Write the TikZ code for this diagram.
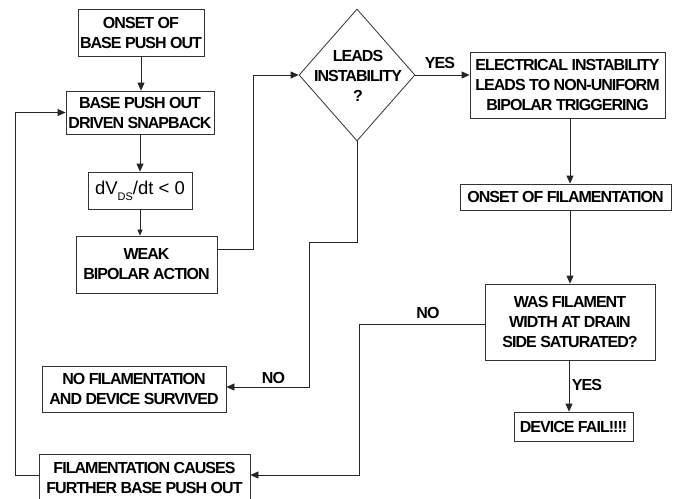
\documentclass[tikz,border=0pt]{standalone}
\usepackage{fontspec}
\setmainfont{Liberation Sans}[LetterSpace=-6]
\newfontfamily\plainsf{Liberation Sans}
\usetikzlibrary{arrows.meta,shapes.geometric,calc}
\begin{document}
\begin{tikzpicture}[x=1pt,y=-1pt,
  box/.style={draw=black!80, line width=0.8pt, rectangle, inner sep=0pt, align=center, font=\bfseries\fontsize{16}{20}\selectfont},
  conn/.style={line width=0.8pt, draw=black!85},
  arr/.style={conn, -{Triangle[length=8pt,width=7pt]}},
  smallarr/.style={line width=0.6pt, draw=black!85, -{Triangle[length=6pt,width=5pt]}},
  lbl/.style={font=\bfseries\fontsize{16}{20}\selectfont, inner sep=0pt, align=center}]
\clip (0,0) rectangle (676,498);
\fill[white] (0,0) rectangle (676,498);
% boxes
\node[box, minimum width=126pt, minimum height=47pt] (b1) at (141,32.5) {ONSET OF\\BASE PUSH OUT};
\node[box, minimum width=148pt, minimum height=43pt] (b2) at (140,112.5) {BASE PUSH OUT\\DRIVEN SNAPBACK};
\node[box, minimum width=104pt, minimum height=37pt, font=\plainsf\fontsize{18.5}{20}\selectfont] (b3) at (140,190.5) {dV\raisebox{-6pt}{\fontsize{11}{11}\selectfont DS}/dt < 0};
\node[box, minimum width=141pt, minimum height=57pt] (b4) at (146.5,264.5) {WEAK\\BIPOLAR ACTION};
\node[draw=black!80, line width=0.8pt, diamond, minimum width=116pt, minimum height=132pt, inner sep=0pt] (d) at (357,75) {};
\node[lbl] (dt) at (358,76) {LEADS\\INSTABILITY\\?};
\node[box, minimum width=195pt, minimum height=66pt] (b5) at (567.5,85) {ELECTRICAL INSTABILITY\\LEADS TO NON-UNIFORM\\BIPOLAR TRIGGERING};
\node[box, minimum width=211pt, minimum height=26pt] (b6) at (565.5,197) {ONSET OF FILAMENTATION};
\node[box, minimum width=170pt, minimum height=76pt] (b7) at (570,322) {WAS FILAMENT\\WIDTH AT DRAIN\\SIDE SATURATED?};
\node[box, minimum width=119pt, minimum height=29pt] (b9) at (573.5,426.5) {DEVICE FAIL!!!!};
\node[box, minimum width=184pt, minimum height=46pt] (b10) at (134,389) {NO FILAMENTATION\\AND DEVICE SURVIVED};
\node[box, minimum width=211pt, minimum height=48pt] (b11) at (144.5,478) {FILAMENTATION CAUSES\\FURTHER BASE PUSH OUT};
% labels
\node[lbl] (yes1) at (440,63) {YES};
\node[lbl] (no1) at (273.5,378) {NO};
\node[lbl] (no2) at (428,313) {NO};
\node[lbl] (yes2) at (587,385) {YES};
% connectors
\draw[arr] (b1.south) -- (b1.south |- b2.north);
\draw[arr] (b2.south) -- (b2.south |- b3.north);
\draw[smallarr] (b3.south) -- (b3.south |- b4.north);
\draw[arr] ([yshift=15.5pt]b4.east) -- ++(36,0) |- (d.west);
\draw[arr] (d.east) -- (b5.west |- d.east);
\draw[arr] (b7.north |- b5.south) -- (b7.north |- b6.north);
\draw[arr] (b7.north |- b6.south) -- (b7.north);
\draw[arr] ([xshift=-1pt]b7.south) -- ([xshift=-1pt]b7.south |- b9.north);
\draw[arr] ([yshift=-2pt]b7.west) -- ++(-125,0) |- ([yshift=3pt]b11.east);
\draw[arr] (d.south) -- ++(0,101) -- ++(-48,0) |- ([yshift=2pt]b10.east);
\draw[arr] ([yshift=3pt]b11.west) -- ++(-23,0) |- (b2.west);
\end{tikzpicture}
\end{document}
